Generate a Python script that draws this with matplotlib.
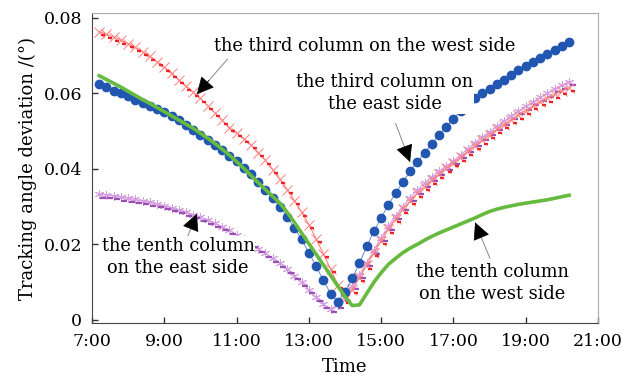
import numpy as np
import matplotlib
matplotlib.use("Agg")
import matplotlib.pyplot as plt
from matplotlib.transforms import offset_copy

plt.rcParams['font.family'] = ['DejaVu Serif']
plt.rcParams['mathtext.fontset'] = 'dejavuserif'

# sample times (hours), one every 12 minutes
hours = np.round(np.arange(7.2, 20.21, 0.2), 2)

third_west = [0.0763, 0.0756, 0.0748, 0.0740, 0.0731, 0.0721, 0.0710, 0.0697, 0.0683, 0.0668,
              0.0652, 0.0635, 0.0618, 0.0602, 0.0586, 0.0567, 0.0548, 0.0528, 0.0509, 0.0495,
              0.0480, 0.0463, 0.0443, 0.0422, 0.0398, 0.0372, 0.0345, 0.0316, 0.0285, 0.0252,
              0.0215, 0.0175, 0.0135, 0.0093, 0.0055, 0.0080, 0.0112, 0.0145, 0.0178, 0.0210,
              0.0240, 0.0268, 0.0293, 0.0315, 0.0335, 0.0353, 0.0370, 0.0386, 0.0401, 0.0416,
              0.0431, 0.0446, 0.0461, 0.0476, 0.0490, 0.0504, 0.0517, 0.0530, 0.0542, 0.0554,
              0.0566, 0.0577, 0.0587, 0.0597, 0.0606, 0.0614]

third_east = [0.0625, 0.0615, 0.0607, 0.0600, 0.0592, 0.0583, 0.0575, 0.0567, 0.0558, 0.0549,
              0.0539, 0.0528, 0.0516, 0.0503, 0.0490, 0.0477, 0.0463, 0.0449, 0.0434, 0.0420,
              0.0403, 0.0385, 0.0366, 0.0345, 0.0322, 0.0298, 0.0272, 0.0244, 0.0213, 0.0178,
              0.0142, 0.0105, 0.0070, 0.0048, 0.0075, 0.0110, 0.0150, 0.0195, 0.0235, 0.0270,
              0.0305, 0.0335, 0.0365, 0.0393, 0.0418, 0.0442, 0.0466, 0.0489, 0.0511, 0.0532,
              0.0552, 0.0570, 0.0586, 0.0600, 0.0612, 0.0624, 0.0636, 0.0648, 0.0660, 0.0671,
              0.0682, 0.0693, 0.0703, 0.0713, 0.0724, 0.0735]

tenth_west = [0.0646, 0.0636, 0.0626, 0.0616, 0.0605, 0.0594, 0.0583, 0.0573, 0.0562, 0.0551,
              0.0540, 0.0529, 0.0518, 0.0507, 0.0494, 0.0481, 0.0467, 0.0452, 0.0436, 0.0419,
              0.0401, 0.0382, 0.0363, 0.0345, 0.0327, 0.0309, 0.0285, 0.0258, 0.0230, 0.0202,
              0.0174, 0.0146, 0.0118, 0.0090, 0.0062, 0.0038, 0.0040, 0.0070, 0.0100, 0.0125,
              0.0147, 0.0163, 0.0178, 0.0190, 0.0200, 0.0211, 0.0221, 0.0230, 0.0238, 0.0246,
              0.0254, 0.0262, 0.0270, 0.0279, 0.0287, 0.0293, 0.0298, 0.0302, 0.0306, 0.0309,
              0.0312, 0.0315, 0.0318, 0.0322, 0.0326, 0.0330]

tenth_east = [0.0333, 0.0331, 0.0328, 0.0325, 0.0322, 0.0319, 0.0315, 0.0311, 0.0307, 0.0302,
              0.0297, 0.0291, 0.0285, 0.0279, 0.0272, 0.0264, 0.0256, 0.0247, 0.0237, 0.0226,
              0.0214, 0.0201, 0.0188, 0.0176, 0.0163, 0.0150, 0.0134, 0.0117, 0.0100, 0.0080,
              0.0060, 0.0042, 0.0030, 0.0040, 0.0060, 0.0090, 0.0120, 0.0152, 0.0185, 0.0218,
              0.0248, 0.0275, 0.0300, 0.0323, 0.0343, 0.0362, 0.0378, 0.0393, 0.0407, 0.0421,
              0.0437, 0.0453, 0.0469, 0.0484, 0.0498, 0.0512, 0.0526, 0.0540, 0.0553, 0.0565,
              0.0577, 0.0589, 0.0600, 0.0611, 0.0621, 0.0630]

xticks = [7, 9, 11, 13, 15, 17, 19, 21]
xticklabels = ["7:00", "9:00", "11:00", "13:00", "15:00", "17:00", "19:00", "21:00"]
yticks = [0, 0.02, 0.04, 0.06, 0.08]
yticklabels = ["0", "0.02", "0.04", "0.06", "0.08"]

fig = plt.figure(figsize=(6.31, 3.77), dpi=100)
ax = fig.add_axes([0.1458, 0.1432, 0.8019, 0.8223])

# dash marks sit a little below/right of the main markers
shifted = offset_copy(ax.transData, fig=fig, x=2.5, y=-2.5, units='points')

# tenth column, east side (purple)
ax.plot(hours, tenth_east, '-', color='#d49ee0', lw=0.8, marker=(6, 2, 0), ms=6.5, mew=0.7, zorder=2)
ax.plot(hours, tenth_east, ls='none', marker='_', color='#9a4fb5', ms=4, mew=1.6, transform=shifted, zorder=2)

# third column, west side (red)
ax.plot(hours, third_west, '-', color='#ff8080', lw=0.8, marker='x', ms=6.5, mew=0.7, zorder=3)
ax.plot(hours, third_west, ls='none', marker='_', color='#ee2222', ms=3.5, mew=1.6, transform=shifted, zorder=3)

# third column, east side (blue)
ax.plot(hours, third_east, '-', color='#5577cc', lw=0.6, marker='o', ms=6, mfc='#2157b0', mec='#2157b0', zorder=4)

# tenth column, west side (green)
ax.plot(hours, tenth_west, '-', color='#66bb3f', lw=2.6, zorder=5)

ax.set_xlim(7, 21)
ax.set_ylim(-0.0008, 0.0812)
ax.set_xticks(xticks)
ax.set_xticklabels(xticklabels)
ax.set_yticks(yticks)
ax.set_yticklabels(yticklabels)
ax.tick_params(direction='in', length=4, width=1, labelsize=12.5, color='#333333')
ax.tick_params(axis='x', pad=7)
ax.tick_params(axis='y', pad=7)
ax.set_xlabel("Time", fontsize=13, labelpad=6)
ax.set_ylabel("Tracking angle deviation /(°)", fontsize=13, labelpad=5)

for side in ['left', 'bottom']:
    ax.spines[side].set_color('#444444')
for side in ['top', 'right']:
    ax.spines[side].set_color('#aaaaaa')


def label(text, xy, xytext, tail, ha='center'):
    # gray leader line + black arrow head
    ax.annotate('', xy=xy, xytext=tail,
                arrowprops=dict(arrowstyle='-', color='#888888', lw=0.7, shrinkA=0, shrinkB=0))
    ax.annotate('', xy=xy, xytext=(xy[0] + (tail[0] - xy[0]) * 0.4, xy[1] + (tail[1] - xy[1]) * 0.4),
                arrowprops=dict(arrowstyle='-|>,head_length=1.1,head_width=0.55', color='black', lw=0.5,
                                shrinkA=0, shrinkB=0))
    ax.text(xytext[0], xytext[1], text, ha=ha, va='center', fontsize=12.8, linespacing=1.3,
            bbox=dict(facecolor='white', edgecolor='none', pad=0.5), zorder=6)


label("the third column on the west side", (9.9, 0.0597), (14.55, 0.0724), (10.75, 0.0690))
label("the third column on\nthe east side", (15.8, 0.0418), (15.1, 0.0601), (15.4, 0.0520))
label("the tenth column\non the east side", (9.9, 0.0281), (9.38, 0.0166), (9.6, 0.0210))
label("the tenth column\non the west side", (17.6, 0.0258), (18.07, 0.0098), (18.01, 0.0163))

fig.savefig("out.png", dpi=100)
